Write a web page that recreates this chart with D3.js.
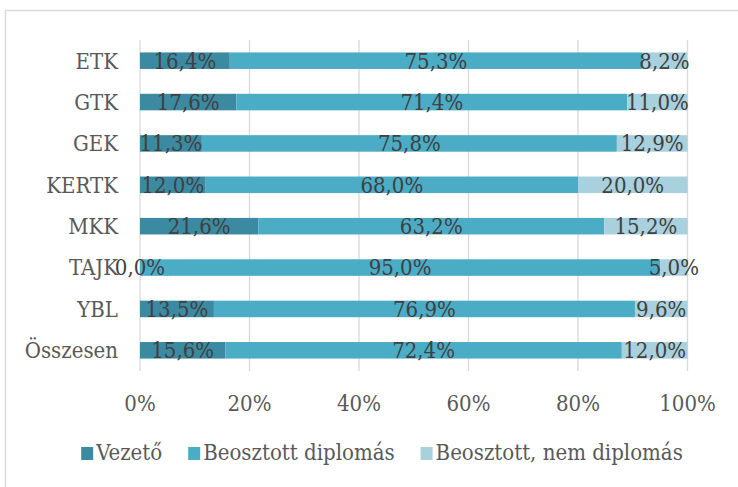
<!DOCTYPE html>
<html>
<head>
<meta charset="utf-8">
<script src="https://cdn.jsdelivr.net/npm/d3@7"></script>
<style>
  body { margin: 0; background: #fff; }
  svg { display: block; font-family: 'DejaVu Serif Condensed', 'DejaVu Serif', serif; }
  .cat-label, .tick-label, .legend-label { fill: #595959; font-size: 22px; }
  .data-label { fill: #404040; font-size: 22px; }
</style>
</head>
<body>
<svg width="738" height="487"></svg>
<script>
const categories = ['ETK', 'GTK', 'GEK', 'KERTK', 'MKK', 'TAJK', 'YBL', 'Összesen'];
const seriesNames = ['Vezető', 'Beosztott diplomás', 'Beosztott, nem diplomás'];
const vezeto    = [16.4, 17.6, 11.3, 12.0, 21.6, 0.0, 13.5, 15.6];
const diplomas  = [75.3, 71.4, 75.8, 68.0, 63.2, 95.0, 76.9, 72.4];
const nemDiplom = [8.2, 11.0, 12.9, 20.0, 15.2, 5.0, 9.6, 12.0];
const ticks = [0, 20, 40, 60, 80, 100];
const colors = ['#3b8aa2', '#4bacc6', '#a9d0dd'];

const svg = d3.select('svg');
const width = +svg.attr('width');
const height = +svg.attr('height');

// chart frame (top + left edge only visible)
svg.append('line').attr('x1', 5).attr('x2', width).attr('y1', 10.5).attr('y2', 10.5)
  .attr('stroke', '#d9d9d9').attr('stroke-width', 1.5);
svg.append('line').attr('x1', 5.5).attr('x2', 5.5).attr('y1', 10).attr('y2', height)
  .attr('stroke', '#d9d9d9').attr('stroke-width', 1.5);

const margin = {top: 40, left: 140};
const innerWidth = 547.5;
const innerHeight = 331;

const data = categories.map((c, i) => ({
  cat: c, 'Vezető': vezeto[i], 'Beosztott diplomás': diplomas[i], 'Beosztott, nem diplomás': nemDiplom[i]
}));
const stacked = d3.stack().keys(seriesNames)(data);

const xScale = d3.scaleLinear().domain([0, 100]).range([0, innerWidth]);
const yScale = d3.scaleBand().domain(categories).range([0, innerHeight])
  .paddingInner(0.6).paddingOuter(0.3);

const g = svg.append('g').attr('transform', `translate(${margin.left},${margin.top})`);

// gridlines
g.selectAll('.grid').data(ticks).enter().append('line')
  .attr('x1', d => xScale(d)).attr('x2', d => xScale(d))
  .attr('y1', 0).attr('y2', innerHeight)
  .attr('stroke', '#d9d9d9').attr('stroke-width', 1.3);

// tick labels
g.selectAll('.tick-label').data(ticks).enter().append('text')
  .attr('class', 'tick-label')
  .attr('x', d => xScale(d)).attr('y', innerHeight + 40)
  .attr('text-anchor', 'middle')
  .text(d => d + '%');

// category labels
g.selectAll('.cat-label').data(categories).enter().append('text')
  .attr('class', 'cat-label')
  .attr('x', -22).attr('y', d => yScale(d) + yScale.bandwidth() / 2)
  .attr('dy', '0.36em').attr('text-anchor', 'end')
  .text(d => d);

// bars
const fmt = v => d3.format('.1f')(v).replace('.', ',') + '%';
const layers = g.selectAll('.layer').data(stacked).enter().append('g')
  .attr('fill', (d, i) => colors[i]);
layers.selectAll('rect').data(d => d).enter().append('rect')
  .attr('x', d => xScale(d[0]))
  .attr('width', d => xScale(d[1]) - xScale(d[0]))
  .attr('y', d => yScale(d.data.cat))
  .attr('height', yScale.bandwidth());

// data labels
stacked.forEach(layer => {
  g.selectAll(null).data(layer).enter().append('text')
    .attr('class', 'data-label')
    .attr('x', d => xScale((d[0] + d[1]) / 2))
    .attr('y', d => yScale(d.data.cat) + yScale.bandwidth() / 2)
    .attr('dy', '0.36em').attr('text-anchor', 'middle')
    .text(d => fmt(d.data[layer.key]));
});

// legend
const legend = svg.append('g');
let lx = 0;
seriesNames.forEach((name, i) => {
  const item = legend.append('g').attr('transform', `translate(${lx},0)`);
  item.append('rect').attr('x', 0).attr('y', -13).attr('width', 12).attr('height', 13)
    .attr('fill', colors[i]);
  const t = item.append('text').attr('class', 'legend-label')
    .attr('x', 15).attr('y', 0).text(name);
  lx += 15 + t.node().getComputedTextLength() + 26;
});
const legendWidth = lx - 26;
legend.attr('transform', `translate(${382 - legendWidth / 2},460)`);
</script>
</body>
</html>
